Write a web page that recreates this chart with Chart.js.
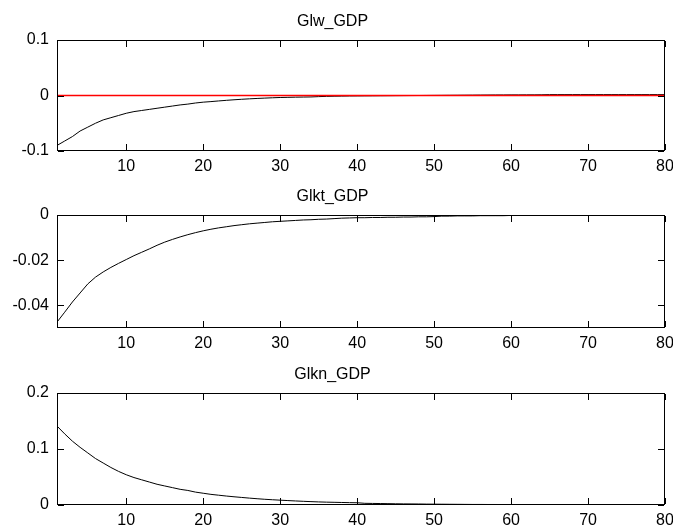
<!DOCTYPE html>
<html>
<head>
<meta charset="utf-8">
<script src="https://cdn.jsdelivr.net/npm/chart.js@4.4.1/dist/chart.umd.min.js"></script>
<style>
    html, body { margin: 0; padding: 0; background: #fff; }
    #wrap { position: relative; width: 673px; height: 532px; overflow: hidden; background: #fff; }
    #wrap canvas { position: absolute; left: 0; }
</style>
</head>
<body>
<div id="wrap">
    <canvas id="c1" width="673" height="177" style="top:0px"></canvas>
    <canvas id="c2" width="673" height="179" style="top:175px"></canvas>
    <canvas id="c3" width="673" height="178" style="top:353px"></canvas>
</div>
<script>
// periods 1..80
const periods = [
    1, 2, 3, 4, 5, 6, 7, 8, 9, 10, 11, 12, 13, 14, 15, 16, 17, 18, 19, 20,
    21, 22, 23, 24, 25, 26, 27, 28, 29, 30, 31, 32, 33, 34, 35, 36, 37, 38, 39, 40,
    41, 42, 43, 44, 45, 46, 47, 48, 49, 50, 51, 52, 53, 54, 55, 56, 57, 58, 59, 60,
    61, 62, 63, 64, 65, 66, 67, 68, 69, 70, 71, 72, 73, 74, 75, 76, 77, 78, 79, 80
];

const glwGdp = [
    -0.090, -0.082, -0.074, -0.064, -0.057, -0.050, -0.044, -0.040, -0.036, -0.032,
    -0.029, -0.027, -0.025, -0.023, -0.021, -0.019, -0.017, -0.0155, -0.0135, -0.012,
    -0.011, -0.0098, -0.0087, -0.0077, -0.0068, -0.0060, -0.0053, -0.0047, -0.0041, -0.0036,
    -0.0033, -0.0030, -0.0028, -0.0026, -0.0020, -0.0016, -0.0013, -0.0011, -0.0009, -0.0008,
    -0.0007, -0.0006, -0.0005, -0.0004, -0.0003, -0.0002, -0.0001, 0.0000, 0.0001, 0.0002,
    0.0003, 0.0004, 0.0005, 0.0006, 0.0007, 0.0008, 0.0009, 0.0010, 0.0010, 0.0011,
    0.0011, 0.0012, 0.0012, 0.0013, 0.0016, 0.0016, 0.0016, 0.0016, 0.0016, 0.0016,
    0.0016, 0.0016, 0.0016, 0.0016, 0.0016, 0.0016, 0.0016, 0.0016, 0.0016, 0.0016
];

const glktGdp = [
    -0.0474, -0.0430, -0.0385, -0.0345, -0.0305, -0.0275, -0.0252, -0.0232, -0.0214, -0.0197,
    -0.0180, -0.0165, -0.0150, -0.0134, -0.0120, -0.0108, -0.0097, -0.0087, -0.0078, -0.0070,
    -0.0063, -0.0057, -0.0052, -0.0047, -0.0043, -0.0039, -0.0036, -0.0033, -0.0030, -0.0028,
    -0.0026, -0.0024, -0.0022, -0.0021, -0.0019, -0.0018, -0.0016, -0.0014, -0.0013, -0.0012,
    -0.0012, -0.0011, -0.0011, -0.0010, -0.0010, -0.0009, -0.0009, -0.0008, -0.0008, -0.0007,
    -0.0005, -0.0005, -0.0004, -0.0004, -0.0004, -0.0003, -0.0003, -0.0003, -0.0003, -0.0002,
    -0.0002, -0.0002, -0.0002, -0.0002, -0.0002, -0.0001, -0.0001, -0.0001, -0.0001, -0.0001,
    -0.0001, -0.0001, -0.0001, -0.0001, -0.0001, -0.0001, -0.0001, -0.0001, -0.0001, -0.0001
];

const glknGdp = [
    0.141, 0.127, 0.114, 0.103, 0.093, 0.083, 0.075, 0.067, 0.060, 0.054,
    0.049, 0.045, 0.041, 0.037, 0.034, 0.031, 0.028, 0.026, 0.023, 0.021,
    0.019, 0.0175, 0.016, 0.0147, 0.0135, 0.0123, 0.0112, 0.0102, 0.0094, 0.0086,
    0.0079, 0.0072, 0.0066, 0.0060, 0.0055, 0.0051, 0.0048, 0.0045, 0.0042, 0.0040,
    0.0030, 0.0028, 0.0026, 0.0024, 0.0022, 0.0020, 0.0019, 0.0018, 0.0016, 0.0015,
    0.0014, 0.0013, 0.0012, 0.0011, 0.0010, 0.0010, 0.0009, 0.0009, 0.0008, 0.0008,
    0.0007, 0.0007, 0.0006, 0.0006, 0.0006, 0.0005, 0.0005, 0.0005, 0.0004, 0.0004,
    0.0004, 0.0003, 0.0003, 0.0003, 0.0003, 0.0003, 0.0002, 0.0002, 0.0002, 0.0002
];

// red zero line in the first panel
const zeroLineX = [1, 80];
const zeroLineY = [0, 0];

const xTicks = [10, 20, 30, 40, 50, 60, 70, 80];
const yTicksGlw = [-0.1, 0, 0.1];
const yTicksGlkt = [-0.04, -0.02, 0];
const yTicksGlkn = [0, 0.1, 0.2];

Chart.defaults.font.family = '"Liberation Sans", Arial, sans-serif';
Chart.defaults.font.size = 16;
Chart.defaults.color = '#000';

// matlab style box with inward ticks
const boxPlugin = {
    id: 'matBox',
    afterDraw(chart) {
        const ctx = chart.ctx;
        const a = chart.chartArea;
        const xs = chart.scales.x, ys = chart.scales.y;
        const l = Math.round(a.left), r = Math.round(a.right) - 1;
        const t = Math.round(a.top), b = Math.round(a.bottom) - 1;
        const len = 6;
        ctx.save();
        ctx.fillStyle = '#000';
        // frame
        ctx.fillRect(l, t, r - l + 1, 1);
        ctx.fillRect(l, b, r - l + 1, 1);
        ctx.fillRect(l, t, 1, b - t + 1);
        ctx.fillRect(r, t, 1, b - t + 1);
        // inward ticks
        for (const v of xTicks) {
            const px = Math.round(xs.getPixelForValue(v));
            ctx.fillRect(px, b - len, 1, len);
            ctx.fillRect(px, t + 1, 1, len);
        }
        for (const v of ys.ticks.map(tk => tk.value)) {
            const py = Math.round(ys.getPixelForValue(v));
            ctx.fillRect(l + 1, py, len, 1);
            ctx.fillRect(r - len, py, len, 1);
        }
        ctx.restore();
    }
};

function makePanel(id, title, values, yMin, yMax, yTicks, extra) {
    const datasets = [];
    if (extra) datasets.push(extra);
    datasets.push({
        data: periods.map((p, i) => ({ x: p, y: values[i] })),
        borderColor: '#000',
        borderWidth: 1,
        pointRadius: 0,
        tension: 0
    });
    return new Chart(document.getElementById(id), {
        type: 'line',
        data: { datasets: datasets },
        options: {
            responsive: false,
            animation: false,
            devicePixelRatio: 1,
            events: [],
            layout: { padding: { left: 0, right: 8, top: 0, bottom: 0 } },
            plugins: {
                legend: { display: false },
                tooltip: { enabled: false },
                title: {
                    display: true,
                    text: title,
                    font: { size: 16, weight: 'normal' },
                    color: '#000',
                    padding: { top: 12, bottom: 8.8 }
                }
            },
            scales: {
                x: {
                    type: 'linear',
                    min: 1,
                    max: 80,
                    grid: { display: false, drawTicks: false },
                    border: { display: false },
                    afterBuildTicks: s => { s.ticks = xTicks.map(v => ({ value: v })); },
                    afterFit: s => { s.height = 26; s.paddingLeft = 0; s.paddingRight = 0; },
                    ticks: { padding: 6, maxRotation: 0, autoSkip: false, callback: v => String(v) }
                },
                y: {
                    min: yMin,
                    max: yMax,
                    grid: { display: false, drawTicks: false },
                    border: { display: false },
                    afterBuildTicks: s => { s.ticks = yTicks.map(v => ({ value: v })); },
                    afterFit: s => { s.width = 57; s.paddingTop = 0; s.paddingBottom = 0; },
                    ticks: { padding: 8, callback: v => String(v) }
                }
            }
        },
        plugins: [boxPlugin]
    });
}

makePanel('c1', 'Glw_GDP', glwGdp, -0.1, 0.1, yTicksGlw, {
    data: zeroLineX.map((x, i) => ({ x: x, y: zeroLineY[i] })),
    borderColor: '#ff0000',
    borderWidth: 1.5,
    pointRadius: 0
});
makePanel('c2', 'Glkt_GDP', glktGdp, -0.05, 0, yTicksGlkt);
makePanel('c3', 'Glkn_GDP', glknGdp, 0, 0.2, yTicksGlkn);
</script>
</body>
</html>
